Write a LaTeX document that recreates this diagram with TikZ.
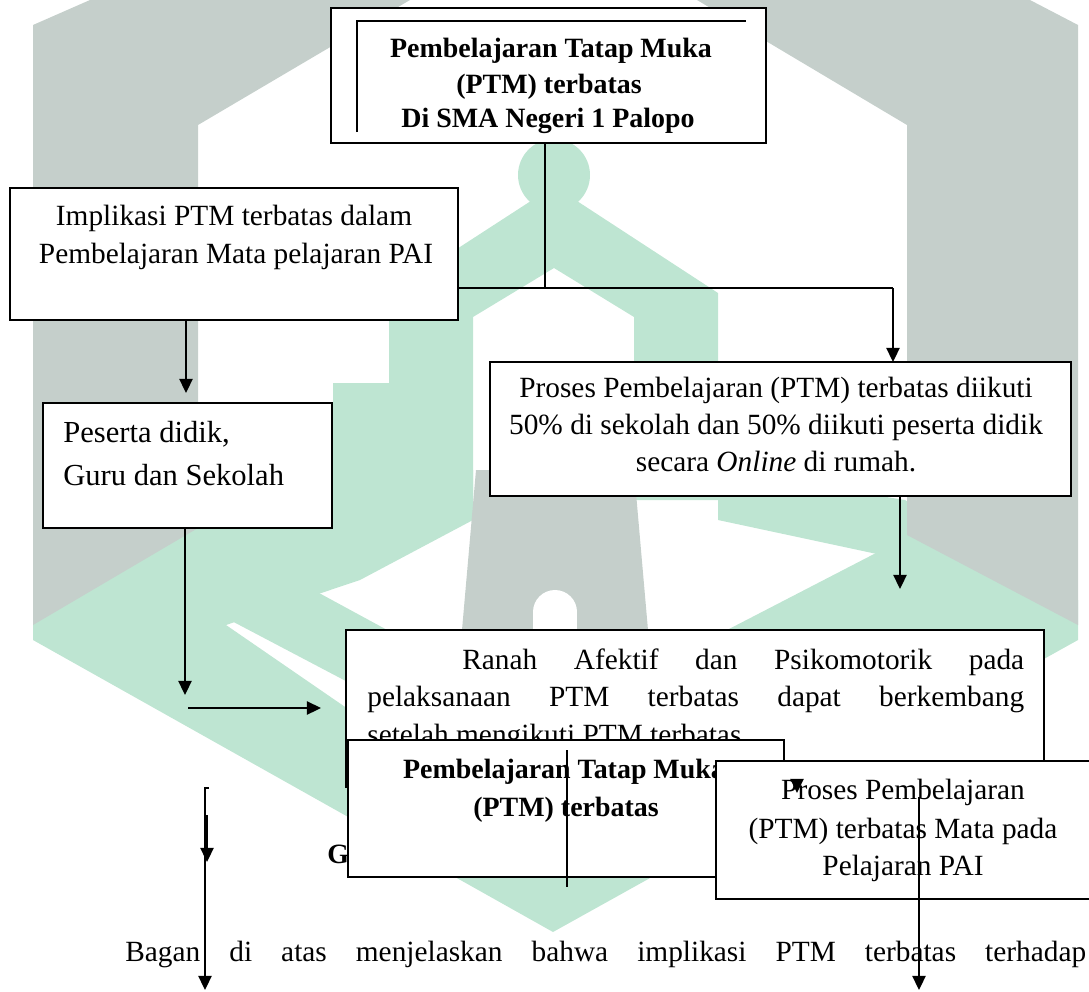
\documentclass[tikz,border=0pt]{standalone}
\usepackage{fontspec}
\setmainfont{Liberation Serif}
\usetikzlibrary{arrows.meta}
\definecolor{markgrey}{RGB}{197,207,203}
\definecolor{markgreen}{RGB}{190,229,210}

\begin{document}
\begin{tikzpicture}[x=0.02cm,y=-0.02cm,
  box/.style={draw,line width=1pt,fill=white,inner sep=0pt,outer sep=0pt,anchor=north west},
  txt/.style={inner sep=0pt,anchor=base,font=\fontsize{16.7}{20}\selectfont},
  btxt/.style={inner sep=0pt,anchor=base,font=\fontsize{15.9}{20}\selectfont\bfseries},
  line/.style={line width=1pt},
  arr/.style={line width=1pt,-{Triangle[length=8pt,width=7.5pt]}}]
\useasboundingbox (0,0) rectangle (1089,991);
% watermark
\fill[markgreen] (389,500) -- (389,293) -- (554,186) -- (718,293) -- (718,500)
  -- (634,500) -- (634,317) -- (554,268) -- (473,317) -- (473,500) -- cycle;
\fill[markgreen] (554,175) circle[radius=36];
\fill[markgreen] (333,383) rectangle (473,500);
\fill[markgreen] (473,470) -- (205,500) -- (33,600) -- (33,640) -- (553,932)
  -- (1078,640) -- (1078,600) -- (905,500) -- (718,470) -- (718,520) -- (905,560)
  -- (553,850) -- (226,625) -- (360,580) -- (473,520) -- cycle;
\fill[markgreen] (203,530) -- (553,720) -- (905,538) -- (905,580) -- (553,790) -- (226,618) -- cycle;
\fill[markgrey] (33,25) -- (90,0) -- (410,0) -- (198,125) -- (198,528) -- (33,625) -- cycle;
\fill[markgrey] (697,0) -- (1030,0) -- (1078,25) -- (1078,625) -- (907,535) -- (907,125) -- cycle;
\fill[markgrey] (476,470) -- (634,470) -- (648,630) -- (462,630) -- cycle;
\fill[white] (555,612) circle[radius=22];
\fill[white] (533,612) rectangle (577,631);

% upper part of the chart
\node[box,minimum width=8.7cm,minimum height=2.7cm] (top) at (331,8) {};
\draw[line] (357,132) -- (357,21) -- (746,21);
\node[btxt] (top1) at (551,57) {Pembelajaran Tatap Muka};
\node[btxt] (top2) at (549,93) {(PTM) terbatas};
\node[btxt] (top3) at (548,127) {Di SMA Negeri 1 Palopo};

\node[box,minimum width=8.96cm,minimum height=2.64cm] (impl) at (10,188) {};
\node[txt] (impl1) at (234,225) {Implikasi PTM terbatas dalam};
\node[txt] (impl2) at (236,263) {Pembelajaran Mata pelajaran PAI};

\node[box,minimum width=5.78cm,minimum height=2.5cm] (pes) at (43,403) {};
\node[txt,anchor=base west,font=\fontsize{17.4}{20}\selectfont] (pes1) at (63,442) {Peserta didik,};
\node[txt,anchor=base west,font=\fontsize{17.4}{20}\selectfont] (pes2) at (63,485) {Guru dan Sekolah};

\node[box,minimum width=11.62cm,minimum height=2.68cm] (proc) at (490,362) {};
\node[txt] (proc1) at (776,397) {Proses Pembelajaran (PTM) terbatas diikuti};
\node[txt] (proc2) at (776,434) {50\% di sekolah dan 50\% diikuti peserta didik};
\node[txt] (proc3) at (776,471) {secara \textit{Online} di rumah.};

\coordinate (split) at (545,288);
\coordinate (right) at (893,288);
\draw[line] (top.south -| split) -- (split);
\draw[line] (split -| impl.east) -- (right);
\draw[arr] (right) -- (right |- proc.north);
\draw[arr] (impl.south -| 186,0) -- (186,393);
\draw[arr] (pes.south -| 185,0) -- (185,695);
\draw[arr] (188,708) -- (321,708);
\draw[arr] (proc.south -| 900,0) -- (900,589);

% lower part of the chart
\node[box,minimum width=13.96cm,minimum height=3.14cm] (ranah) at (346,630) {};
\node[txt,anchor=base west] (ranah1) at (462,669)
  {\makebox[11.24cm][s]{Ranah Afektif dan Psikomotorik pada}};
\node[txt,anchor=base west] (ranah2) at (367,706)
  {\makebox[13.14cm][s]{pelaksanaan PTM terbatas dapat berkembang}};
\node[txt,anchor=base west] (ranah3) at (367,744) {setelah mengikuti PTM terbatas.};

\node[btxt,anchor=base west] (gam) at (327,863) {G};
\node[box,minimum width=8.72cm,minimum height=2.74cm] (ptm) at (348,740) {};
\node[btxt] (ptm1) at (564,778) {Pembelajaran Tatap Muka};
\node[btxt] (ptm2) at (566,816) {(PTM) terbatas};
\draw[line] (567,750) -- (567,887);

\node[box,minimum width=7.48cm,minimum height=2.76cm] (pros) at (716,761) {};
\node[txt] (pros1) at (903,799) {Proses Pembelajaran};
\node[txt] (pros2) at (903,838) {(PTM) terbatas Mata pada};
\node[txt] (pros3) at (903,875) {Pelajaran PAI};
\draw[arr] (797,781) -- (797,793);

\node[txt,anchor=base west] (bagan) at (125,961)
  {\makebox[19.22cm][s]{Bagan di atas menjelaskan bahwa implikasi PTM terbatas terhadap}};

\coordinate (tick) at (209,788);
\draw[arr] (tick) -- (205,788) -- (205,990);
\draw[arr] (207,815) -- (207,862);
\draw[arr] (919,797) -- (919,990);
\end{tikzpicture}
\end{document}
